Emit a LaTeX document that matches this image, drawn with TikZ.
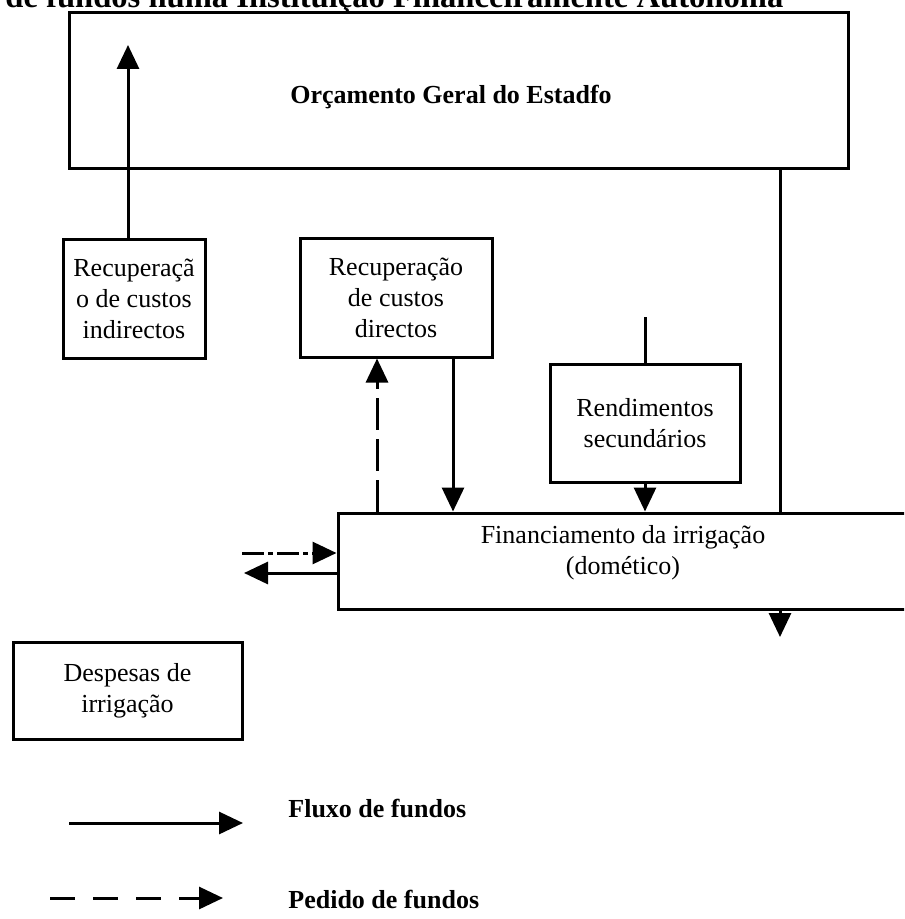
\documentclass[tikz,border=0pt]{standalone}
\usepackage{fontspec}
\setmainfont{Liberation Serif}
\usetikzlibrary{arrows.meta,positioning,calc}

\begin{document}
\begin{tikzpicture}[
    x=0.5pt, y=-0.5pt,
    font=\fontsize{13}{15.5}\selectfont,
    box/.style={rectangle, draw=black, line width=1.5pt, align=center, inner sep=0pt},
    flow/.style={line width=1.5pt, -{Triangle[length=12pt,width=11pt]}},
    plain/.style={line width=1.5pt},
    request/.style={flow, dash pattern=on 16pt off 4.5pt},
    reqdot/.style={flow, dash pattern=on 11pt off 2pt on 2.5pt off 2pt},
    legend/.style={font=\fontsize{13}{15.5}\selectfont\bfseries, anchor=base west, inner sep=0pt}
]
\useasboundingbox (0,0) rectangle (904,919);
\clip (0,0) rectangle (904,919);

% Title (cut at the top edge)
\node[font=\fontsize{16.3}{19}\selectfont\bfseries, anchor=base west, inner sep=0pt] (title) at (5,8)
    {de fundos numa Instituição Financeiramente Autónoma};

% Boxes
\node[box, minimum width=389.5pt, minimum height=78pt] (oge) at (458.5,91) {};
\node[font=\fontsize{13}{15.5}\selectfont\bfseries] (ogetext) at (451,97) {Orçamento Geral do Estadfo};
\node[box, minimum width=71pt, minimum height=59pt] (recind) at (134,299) {Recuperaçã\\o de custos\\indirectos};
\node[box, minimum width=96pt, minimum height=59pt] (recdir) at (396,298) {Recuperação\\de custos\\directos};
\node[box, minimum width=95pt, minimum height=59pt] (rend) at (645,423) {Rendimentos\\secundários};
\node[box, minimum width=285pt, minimum height=48pt] (fin) at (623,561) {};
\node[align=center] (fintext) at (623,553) {Financiamento da irrigação\\(domético)};
\node[box, minimum width=114.5pt, minimum height=48.5pt] (desp) at (127.5,690.5) {Despesas de\\irrigação};

% Helper coordinates
\coordinate (ogeup) at (128,45);
\coordinate (xreq) at (377,0);
\coordinate (xflow) at (453,0);
\coordinate (xoge) at (780,0);
\coordinate (rendtop) at (645,317);
\coordinate (outend) at (780,637);
\coordinate (reqin) at (242,553);
\coordinate (payout) at (244,573);

% Connectors
\draw[flow] (recind.north -| ogeup) -- (ogeup);
\draw[request] (fin.north -| xreq) -- (recdir.south -| xreq);
\draw[flow] (recdir.south -| xflow) -- (fin.north -| xflow);
\draw[plain] (rendtop) -- (rend.north);
\draw[flow] (rend.south) -- (fin.north -| rend.south);
\draw[plain] (oge.south -| xoge) -- (fin.north -| xoge);
\draw[flow] (fin.south -| xoge) -- (outend);
\draw[reqdot] (reqin) -- (reqin -| fin.west);
\draw[flow] (payout -| fin.west) -- (payout);

% Legend
\coordinate (legf1) at (69,823);
\coordinate (legf2) at (243,823);
\coordinate (legr1) at (50,898);
\coordinate (legr2) at (223,898);
\draw[flow] (legf1) -- (legf2);
\draw[request, dash pattern=on 12.5pt off 9pt] (legr1) -- (legr2);
\node[legend] (legflow) at (288,817) {Fluxo de fundos};
\node[legend] (legreq) at (288,908) {Pedido de fundos};

\end{tikzpicture}
\end{document}
